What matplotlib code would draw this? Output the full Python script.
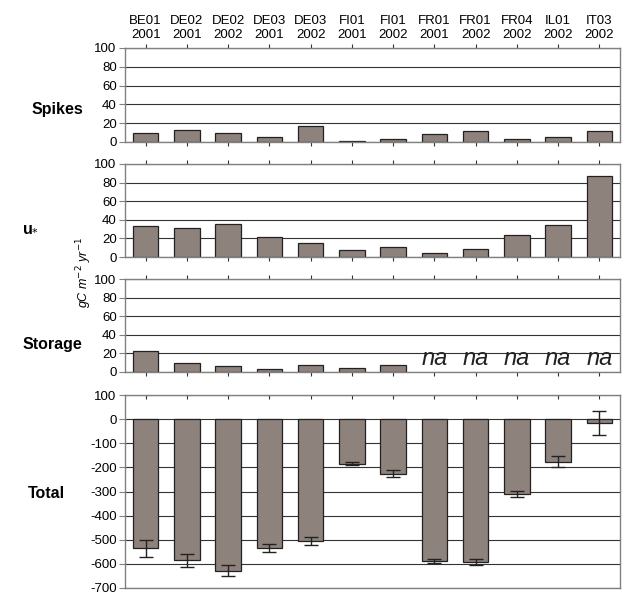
import matplotlib
matplotlib.use("Agg")
import matplotlib.pyplot as plt
import numpy as np

plt.rcParams['font.family'] = ['Liberation Sans', 'DejaVu Sans']
plt.rcParams['axes.unicode_minus'] = False

sites = ["BE01", "DE02", "DE02", "DE03", "DE03", "FI01", "FI01",
         "FR01", "FR01", "FR04", "IL01", "IT03"]
years = ["2001", "2001", "2002", "2001", "2002", "2001", "2002",
         "2001", "2002", "2002", "2002", "2002"]

spikes = [10, 13, 10, 5, 17, 1, 3, 9, 12, 3, 5, 12]
ustar = [33, 31, 35, 22, 15, 8, 11, 4, 9, 24, 34, 87]
storage = [23, 10, 6, 3, 8, 4, 7, np.nan, np.nan, np.nan, np.nan, np.nan]
total = [-536, -586, -629, -535, -506, -185, -226, -588, -592, -311, -176, -16]
total_err = [34, 25, 23, 16, 16, 7, 14, 9, 11, 13, 24, 48]

bar_color = "#8e827c"
x = np.arange(len(sites))
labels = [f"{s}\n{y}" for s, y in zip(sites, years)]

fig = plt.figure(figsize=(6.22, 5.94), dpi=100)

# panel rectangles in pixels (top, bottom)
W, H = 622, 594
left, right = 125, 620
rows = [(48, 142), (164, 257), (279, 372), (395, 588)]
axes = []
for top, bot in rows:
    ax = fig.add_axes([left / W, 1 - bot / H, (right - left) / W, (bot - top) / H])
    axes.append(ax)


def style(ax, ymin, ymax, step):
    ax.set_xlim(-0.5, len(sites) - 0.5)
    ax.set_ylim(ymin, ymax)
    ax.set_yticks(np.arange(ymin, ymax + 1, step))
    ax.yaxis.grid(True, color="#333333", linewidth=0.8)
    ax.set_axisbelow(True)
    for sp in ax.spines.values():
        sp.set_color("#808080")
        sp.set_linewidth(1.0)
    ax.tick_params(axis="y", labelsize=9.5, length=4, color="#808080", pad=2)
    ax.set_xticks(x)
    ax.tick_params(axis="x", top=True, bottom=True, labelbottom=False,
                   labeltop=False, length=3, color="#333333")


for ax, vals in zip(axes[:3], [spikes, ustar, storage]):
    style(ax, 0, 100, 20)
    ax.bar(x, vals, width=0.62, color=bar_color, edgecolor="#222222", linewidth=0.9)

axes[0].tick_params(axis="x", labeltop=True, labelsize=9.5, pad=2)
axes[0].set_xticklabels(labels)

for i in range(7, 12):
    axes[2].text(x[i], 2, "na", ha="center", va="bottom", fontsize=17,
                 style="italic", color="#222222")

ax = axes[3]
style(ax, -700, 100, 100)
ax.tick_params(axis="x", bottom=False, direction="in")
ax.bar(x, total, width=0.62, color=bar_color, edgecolor="#222222", linewidth=0.9,
       yerr=total_err, error_kw=dict(ecolor="#222222", elinewidth=1.0, capsize=5, capthick=1.0))

names = [("Spikes", 57, 110), ("u$_{*}$", 31, 227), ("Storage", 52, 345), ("Total", 46, 493)]
for txt, px, py in names:
    fig.text(px / W, 1 - py / H, txt, ha="center", va="center",
             fontsize=11.5, fontweight="bold")

fig.text(84 / W, 1 - 272 / H, "gC m$^{-2}$ yr$^{-1}$", rotation=90, ha="center",
         va="center", fontsize=9, style="italic")

fig.savefig("out.png", dpi=100)
